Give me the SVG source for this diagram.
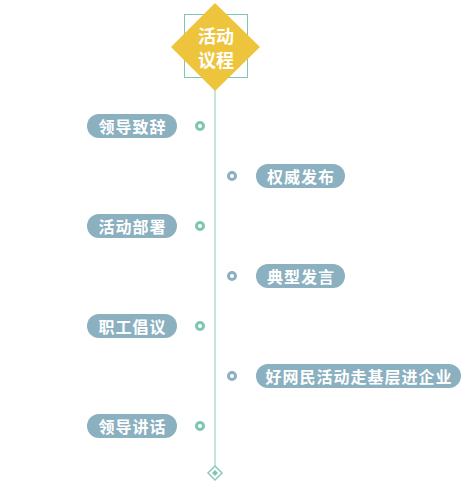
<svg xmlns="http://www.w3.org/2000/svg" width="470" height="503" viewBox="0 0 470 503">
<style>
.pill{fill:#8bb0c0}
.t{fill:#fff;font-family:"Noto Sans CJK SC","Noto Sans",sans-serif;font-weight:bold;font-size:16px;letter-spacing:1px;text-anchor:middle;dominant-baseline:central}
.dl{fill:#fff;stroke:#7ec5b2;stroke-width:3}
.dr{fill:#fff;stroke:#8bb0c0;stroke-width:3}
</style>
<rect width="470" height="503" fill="#fff"/>
<g id="connectors">
<line x1="215" y1="88" x2="215" y2="466" stroke="#8fcab9" stroke-width="1"/>
</g>
<g id="title">
<rect x="184.5" y="14.5" width="63" height="63" fill="none" stroke="#7ec5b2" stroke-width="1"/>
<polygon points="215,3 260,47 215,91 171,47" fill="#efc43d"/>
<text class="t" x="216" y="35" style="font-size:18px;letter-spacing:0">活动</text>
<text class="t" x="216" y="59" style="font-size:18px;letter-spacing:0">议程</text>
</g>
<g id="n1"><rect class="pill" x="87" y="114" width="90" height="24" rx="12"/><text class="t" x="132.5" y="126">领导致辞</text><circle class="dl" cx="200" cy="126" r="3.5"/></g>
<g id="n2"><rect class="pill" x="256" y="164" width="89" height="24" rx="12"/><text class="t" x="301" y="176">权威发布</text><circle class="dr" cx="232" cy="176" r="3.5"/></g>
<g id="n3"><rect class="pill" x="87" y="214" width="90" height="24" rx="12"/><text class="t" x="132.5" y="226">活动部署</text><circle class="dl" cx="200" cy="226" r="3.5"/></g>
<g id="n4"><rect class="pill" x="256" y="264" width="89" height="24" rx="12"/><text class="t" x="301" y="276">典型发言</text><circle class="dr" cx="232" cy="276" r="3.5"/></g>
<g id="n5"><rect class="pill" x="87" y="314" width="90" height="24" rx="12"/><text class="t" x="132.5" y="326">职工倡议</text><circle class="dl" cx="200" cy="326" r="3.5"/></g>
<g id="n6"><rect class="pill" x="256" y="364" width="205" height="24" rx="12"/><text class="t" x="359" y="376">好网民活动走基层进企业</text><circle class="dr" cx="232" cy="376" r="3.5"/></g>
<g id="n7"><rect class="pill" x="87" y="414" width="90" height="24" rx="12"/><text class="t" x="132.5" y="426">领导讲话</text><circle class="dl" cx="200" cy="426" r="3.5"/></g>
<g id="end">
<polygon points="215,466 222,473 215,480 208,473" fill="#fff" stroke="#8fcab9" stroke-width="1.5"/>
<polygon points="215,470 218,473 215,476 212,473" fill="#7ec5b2"/>
</g>
</svg>
